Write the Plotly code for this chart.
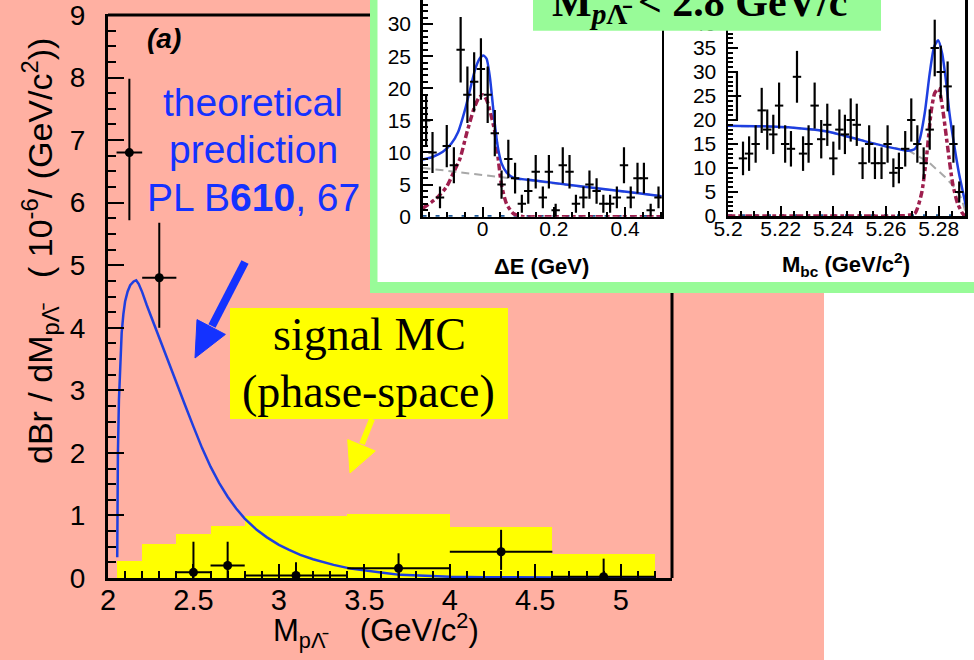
import plotly.graph_objects as go

W, H = 974, 660
def px(x): return x / W
def py(y): return 1 - y / H

SANS = "Liberation Sans, Arial, Helvetica, sans-serif"
SERIF = "Liberation Serif, Times New Roman, serif"
BLUE = "#1432FF"
CURVE = "#1E3FE0"
SALMON = "#FFB0A2"
GREEN = "#98FB98"
RED = "#9E1F4E"

# ---------------- main panel data ----------------
mc_left = [2.05, 2.2, 2.4, 2.6, 2.8, 3.4, 4.0, 4.6]
mc_right = [2.2, 2.4, 2.6, 2.8, 3.4, 4.0, 4.6, 5.2]
mc_values = [0.27, 0.54, 0.71, 0.83, 0.99, 1.02, 0.81, 0.38]

theory_x = [2.054, 2.055, 2.058, 2.064, 2.072, 2.08, 2.09, 2.10, 2.115, 2.13, 2.15, 2.165,
            2.18, 2.2, 2.227, 2.26, 2.305, 2.35, 2.40, 2.45, 2.50, 2.55, 2.60, 2.65, 2.70,
            2.75, 2.80, 2.87, 2.93, 3.0, 3.06, 3.125, 3.2, 3.32, 3.42, 3.52, 3.62, 3.71,
            3.85, 4.0, 4.2, 4.5, 4.8, 5.2]
theory_y = [0.33, 1.1, 2.0, 2.85, 3.45, 3.92, 4.22, 4.42, 4.58, 4.68, 4.74, 4.76,
            4.70, 4.57, 4.36, 4.12, 3.80, 3.48, 3.13, 2.77, 2.42, 2.08, 1.78, 1.52, 1.30,
            1.11, 0.95, 0.77, 0.65, 0.53, 0.45, 0.37, 0.30, 0.21, 0.15, 0.11, 0.08, 0.05,
            0.035, 0.02, 0.012, 0.005, 0.002, 0.0]

data_x = [2.125, 2.3, 2.5, 2.7, 3.1, 3.7, 4.3, 4.9]
data_y = [6.8, 4.8, 0.09, 0.2, 0.04, 0.155, 0.42, 0.02]
data_err_up = [1.18, 0.88, 0.49, 0.38, 0.21, 0.24, 0.35, 0.29]
data_err_dn = [1.08, 0.8, 0.09, 0.2, 0.04, 0.155, 0.29, 0.02]
data_xerr = [0.075, 0.1, 0.1, 0.1, 0.3, 0.3, 0.3, 0.3]

# ---------------- inset: Delta E ----------------
de_x = [-0.159, -0.141, -0.120, -0.101, -0.081, -0.062, -0.043, -0.024, -0.005, 0.014,
        0.034, 0.053, 0.072, 0.091, 0.110, 0.128, 0.149, 0.169, 0.186, 0.205, 0.225,
        0.244, 0.262, 0.283, 0.300, 0.320, 0.339, 0.358, 0.377, 0.397, 0.416, 0.435,
        0.453, 0.472, 0.494]
de_y = [15, 10, 3, 11, 8, 26, 19, 21, 23, 19, 13, 5, 9, 6, 2, 4, 7, 3, 7, 1, 8, 7, 2, 3,
        5, 4, 2, 2, 3, 8, 3, 6, 6, 1, 3]
de_err = [3.9, 3.2, 1.7, 3.3, 2.8, 5.1, 4.4, 4.6, 4.8, 4.4, 3.6, 2.2, 3.0, 2.4, 1.4, 2.0,
          2.6, 1.7, 2.6, 1.0, 2.8, 2.6, 1.4, 1.7, 2.2, 2.0, 1.4, 1.4, 1.7, 2.8, 1.7, 2.4,
          2.4, 1.0, 1.7]
de_fit_x = [-0.169, -0.141, -0.112, -0.088, -0.069, -0.050, -0.036, -0.022, -0.009, 0.002,
            0.011, 0.020, 0.030, 0.037, 0.044, 0.053, 0.067, 0.086, 0.152, 0.245, 0.339,
            0.433, 0.503]
de_fit_y = [8.9, 9.3, 10.1, 11.4, 13.2, 16.6, 19.7, 22.8, 24.6, 25.1,
            24.6, 21.8, 16.6, 13.0, 10.4, 8.3, 6.9, 6.1, 5.6, 4.95, 4.3, 3.7, 3.2]
de_bkg_x = [-0.169, 0.503]
de_bkg_y = [7.6, 3.2]
de_sig_x = [-0.169, -0.129, -0.101, -0.081, -0.064, -0.045, -0.026, -0.012, 0.0, 0.011,
            0.020, 0.035, 0.044, 0.053, 0.067, 0.086, 0.114, 0.16, 0.25, 0.35, 0.45, 0.503]
de_sig_y = [1.3, 2.9, 4.7, 7.0, 9.0, 13.0, 16.6, 18.4, 19.0, 18.2,
            16.6, 13.0, 8.8, 4.9, 2.0, 0.5, 0.0, 0.0, 0.0, 0.0, 0.0, 0.0]
de_zero_x = [-0.169, 0.503]
de_zero_y = [0, 0]

# ---------------- inset: Mbc ----------------
mbc_x = [5.2034, 5.2057, 5.2080, 5.2105, 5.2128, 5.2149, 5.2172, 5.2194, 5.2217, 5.2239,
         5.2262, 5.2285, 5.2306, 5.2329, 5.2354, 5.2377, 5.2400, 5.2423, 5.2444, 5.2466,
         5.2489, 5.2511, 5.2536, 5.2558, 5.2583, 5.2606, 5.2628, 5.2649, 5.2673, 5.2696,
         5.2719, 5.2743, 5.2766, 5.2785, 5.2808, 5.2834, 5.2856, 5.2878]
mbc_y = [25, 12, 13, 15, 22, 18, 17, 23, 15, 14, 29, 13, 15, 23, 16, 19, 12, 18, 17, 20,
         19, 11, 15, 11, 11, 15, 9, 10, 14, 20, 15, 11, 18, 35, 30, 27, 15, 5]
mbc_err = [5.0, 3.5, 3.6, 3.9, 4.7, 4.2, 4.1, 4.8, 3.9, 3.7, 5.4, 3.6, 3.9, 4.8, 4.0, 4.4,
           3.5, 4.2, 4.1, 4.5, 4.4, 3.3, 3.9, 3.3, 3.3, 3.9, 3.0, 3.2, 3.7, 4.5, 3.9, 3.3,
           4.2, 5.9, 5.5, 5.2, 3.9, 2.2]
mbc_fit_x = [5.2, 5.212, 5.2249, 5.2377, 5.2504, 5.2606, 5.2683, 5.2708, 5.2727, 5.2747,
             5.2766, 5.2783, 5.2798, 5.2813, 5.2829, 5.2841, 5.2858, 5.2877, 5.2896, 5.2909]
mbc_fit_y = [18.8, 18.7, 18.4, 17.6, 15.8, 14.4, 13.6, 13.9, 15.8, 21.4,
             29.7, 35.3, 36.6, 33.9, 27.6, 21.4, 15.1, 8.9, 4.0, 0.6]
mbc_bkg_x = [5.2, 5.2249, 5.2377, 5.2504, 5.2606, 5.2683, 5.276, 5.2823, 5.2862, 5.2887, 5.2903]
mbc_bkg_y = [18.8, 18.4, 17.6, 15.8, 14.4, 13.7, 11.3, 8.2, 5.8, 3.6, 0.6]
mbc_sig_x = [5.2, 5.25, 5.265, 5.2709, 5.2735, 5.2754, 5.2772, 5.2785, 5.2800, 5.2814,
             5.2834, 5.2853, 5.2872, 5.2891, 5.29]
mbc_sig_y = [0.0, 0.0, 0.0, 0.5, 4.7, 12.4, 22.0, 25.6, 26.6, 22.8,
             14.4, 6.8, 2.6, 0.5, 0.0]
mbc_zero_x = [5.2, 5.29]
mbc_zero_y = [0, 0]

fig = go.Figure()

fig.add_trace(go.Bar(
    x=[(l + r) / 2 for l, r in zip(mc_left, mc_right)],
    y=mc_values,
    width=[r - l for l, r in zip(mc_left, mc_right)],
    marker=dict(color="#FFFF00", line=dict(width=0)),
    xaxis="x", yaxis="y", showlegend=False))
fig.add_trace(go.Scatter(
    x=theory_x, y=theory_y, mode="lines",
    line=dict(color=CURVE, width=2.5),
    xaxis="x", yaxis="y", showlegend=False))
fig.add_trace(go.Scatter(
    x=data_x, y=data_y, mode="markers",
    marker=dict(color="black", size=9, symbol="circle"),
    error_y=dict(type="data", symmetric=False, array=data_err_up, arrayminus=data_err_dn,
                 color="black", thickness=2, width=0),
    error_x=dict(type="data", array=data_xerr, color="black", thickness=2, width=0),
    xaxis="x", yaxis="y", showlegend=False))

def inset_traces(xa, ya, zx, zy, bx, by, sx, sy, fx, fy, dx, dy, de):
    fig.add_trace(go.Scatter(x=zx, y=zy, mode="lines",
                             line=dict(color="#1F5A9A", width=3.5, dash="4px,9px"),
                             xaxis=xa, yaxis=ya, showlegend=False))
    fig.add_trace(go.Scatter(x=bx, y=by, mode="lines",
                             line=dict(color="#A8A8A8", width=2, dash="8px,5px"),
                             xaxis=xa, yaxis=ya, showlegend=False))
    fig.add_trace(go.Scatter(x=sx, y=sy, mode="lines",
                             line=dict(color=RED, width=3.5, dash="7px,3px,4px,3px",
                                       shape="spline", smoothing=0.6),
                             xaxis=xa, yaxis=ya, showlegend=False))
    fig.add_trace(go.Scatter(x=fx, y=fy, mode="lines",
                             line=dict(color=CURVE, width=2.5, shape="spline", smoothing=0.6),
                             xaxis=xa, yaxis=ya, showlegend=False))
    fig.add_trace(go.Scatter(x=dx, y=dy, mode="markers",
                             marker=dict(symbol="line-ew", size=6, color="black",
                                         line=dict(color="black", width=2)),
                             error_y=dict(type="data", array=de, color="black",
                                          thickness=2.2, width=0),
                             xaxis=xa, yaxis=ya, showlegend=False))

inset_traces("x2", "y2", de_zero_x, de_zero_y, de_bkg_x, de_bkg_y, de_sig_x, de_sig_y,
             de_fit_x, de_fit_y, de_x, de_y, de_err)
inset_traces("x3", "y3", mbc_zero_x, mbc_zero_y, mbc_bkg_x, mbc_bkg_y, mbc_sig_x, mbc_sig_y,
             mbc_fit_x, mbc_fit_y, mbc_x, mbc_y, mbc_err)

def ax_common(size):
    return dict(showgrid=False, zeroline=False, showline=True, linecolor="black",
                automargin=False,
                ticks="inside", tickcolor="black", tickwidth=2,
                tickfont=dict(family=SANS, size=size, color="black"))

main_x = ax_common(29)
main_x.update(domain=[px(108), px(672)], range=[2, 5.3], tick0=2, dtick=0.5, ticklen=14,
              linewidth=3, anchor="y", ticklabelstandoff=-6,
              minor=dict(ticks="inside", dtick=0.1, ticklen=7, tickwidth=2, tickcolor="black"))
main_y = ax_common(28)
main_y.update(domain=[py(578), py(13.75)], range=[0, 9.02], tick0=0, dtick=1, ticklen=16,
              linewidth=3, anchor="x", ticklabelstandoff=14, ticklabeloverflow="allow",
              minor=dict(ticks="inside", dtick=0.25, ticklen=8, tickwidth=2, tickcolor="black"))

de_xa = ax_common(21)
de_xa.update(domain=[px(422.7), px(661.7)], range=[-0.1686, 0.503], tick0=0, dtick=0.2,
             ticklen=10, linewidth=2.5, anchor="y2", ticklabelstandoff=-8,
             minor=dict(ticks="inside", dtick=0.05, ticklen=5, tickwidth=2, tickcolor="black"))
de_ya = ax_common(21)
de_ya.update(domain=[py(216.7), 1], range=[0, 33.75], tick0=0, dtick=5, ticklen=10,
             linewidth=2.5, anchor="x2", mirror=True, ticklabelstandoff=5,
             minor=dict(ticks="inside", dtick=1, ticklen=5, tickwidth=2, tickcolor="black"))

mb_xa = ax_common(21)
mb_xa.update(domain=[px(728), px(965)], range=[5.2, 5.29], tick0=5.2, dtick=0.02,
             ticklen=10, linewidth=2.5, anchor="y3", ticklabelstandoff=-8,
             minor=dict(ticks="inside", dtick=0.005, ticklen=5, tickwidth=2, tickcolor="black"))
mb_ya = ax_common(21)
mb_ya.update(domain=[py(216), 1], range=[0, 45], tick0=0, dtick=5, ticklen=10,
             linewidth=2.5, anchor="x3", mirror=True, ticklabelstandoff=5,
             minor=dict(ticks="inside", dtick=1, ticklen=5, tickwidth=2, tickcolor="black"))

def P(x, y):
    return f"{px(x)},{py(y)}"

shapes = [
    dict(type="rect", xref="paper", yref="paper", x0=0, x1=px(824), y0=0, y1=1,
         fillcolor=SALMON, line=dict(width=0), layer="below"),
    dict(type="rect", xref="paper", yref="paper", x0=px(370), x1=1, y0=py(293), y1=1,
         fillcolor=GREEN, line=dict(width=0), layer="below"),
    dict(type="rect", xref="paper", yref="paper", x0=px(377.5), x1=1, y0=py(282), y1=1,
         fillcolor="white", line=dict(width=0), layer="below"),
    dict(type="line", xref="paper", yref="paper", x0=px(108), x1=px(370), y0=py(15), y1=py(15),
         line=dict(color="black", width=3), layer="below"),
    dict(type="line", xref="paper", yref="paper", x0=px(672), x1=px(672), y0=py(293), y1=py(578),
         line=dict(color="black", width=3), layer="below"),
    dict(type="rect", xref="paper", yref="paper", x0=px(230), x1=px(508), y0=py(419), y1=py(308),
         fillcolor="#FFFF00", line=dict(width=0), layer="below"),
    dict(type="rect", xref="paper", yref="paper", x0=px(533), x1=px(881), y0=py(30.7), y1=1,
         fillcolor=GREEN, line=dict(width=0), layer="above"),
    dict(type="line", xref="paper", yref="paper", x0=px(245), y0=py(262), x1=px(212), y1=py(326),
         line=dict(color=BLUE, width=8), layer="above"),
    dict(type="path", xref="paper", yref="paper",
         path=f"M{P(195,358)} L{P(225.4,334.4)} L{P(197,319.6)} Z",
         fillcolor=BLUE, line=dict(color=BLUE, width=1), layer="above"),
    dict(type="line", xref="paper", yref="paper", x0=px(372), y0=py(419), x1=px(362), y1=py(444),
         line=dict(color="#FFFF00", width=6), layer="above"),
    dict(type="path", xref="paper", yref="paper",
         path=f"M{P(350,473)} L{P(375.3,451)} L{P(347.7,439.6)} Z",
         fillcolor="#FFFF00", line=dict(color="#FFFF00", width=1), layer="above"),
]

def A(text, x, y, size, color="black", family=SANS, xanchor="center", yanchor="middle", angle=0):
    return dict(text=text, xref="paper", yref="paper", x=px(x), y=py(y), showarrow=False,
                xanchor=xanchor, yanchor=yanchor, textangle=angle,
                font=dict(family=family, size=size, color=color))

NB = "\u00a0"
LAM = "\u039b\u0304"
annotations = [
    A("<b><i>(a)</i></b>", 164, 38, 28),
    A("theoretical", 253, 102, 39, BLUE),
    A("prediction", 253, 149, 39, BLUE),
    A("PL B<b>610</b>, 67", 253, 197, 39, BLUE),
    A("signal MC", 369, 334, 46, family=SERIF),
    A("(phase-space)", 368, 391, 46, family=SERIF),
    A(f"M<sub>p{LAM}</sub>{NB*4}(GeV/c<sup>2</sup>)", 271, 630, 31, xanchor="left"),
    A(f"dBr / dM<sub>p{LAM}</sub>{NB*3}({NB}10<sup>-6</sup>/ (GeV/c<sup>2</sup>))",
      40, 466, 34, yanchor="bottom", angle=-90),
    A("<b>\u0394E (GeV)</b>", 541, 266, 22),
    A("<b>M<sub>bc</sub> (GeV/c<sup>2</sup>)</b>", 846, 264, 22),
    A(f"<b>M<sub><i>p</i>{LAM}</sub> &lt; 2.8 GeV/c<sup>2</sup></b>", 707, 1, 42, family=SERIF),
]

fig.update_layout(
    width=W, height=H, autosize=False,
    margin=dict(l=0, r=0, t=0, b=0, pad=0, autoexpand=False),
    paper_bgcolor="white", plot_bgcolor="rgba(0,0,0,0)",
    showlegend=False, bargap=0,
    xaxis=main_x, yaxis=main_y,
    xaxis2=de_xa, yaxis2=de_ya,
    xaxis3=mb_xa, yaxis3=mb_ya,
    shapes=shapes, annotations=annotations,
)

POST = ("document.documentElement.style.margin='0';document.body.style.margin='0';"
        "document.documentElement.style.overflow='hidden';document.body.style.overflow='hidden';")

fig.write_html("out.html", config={"staticPlot": True, "displayModeBar": False},
               post_script=POST)
